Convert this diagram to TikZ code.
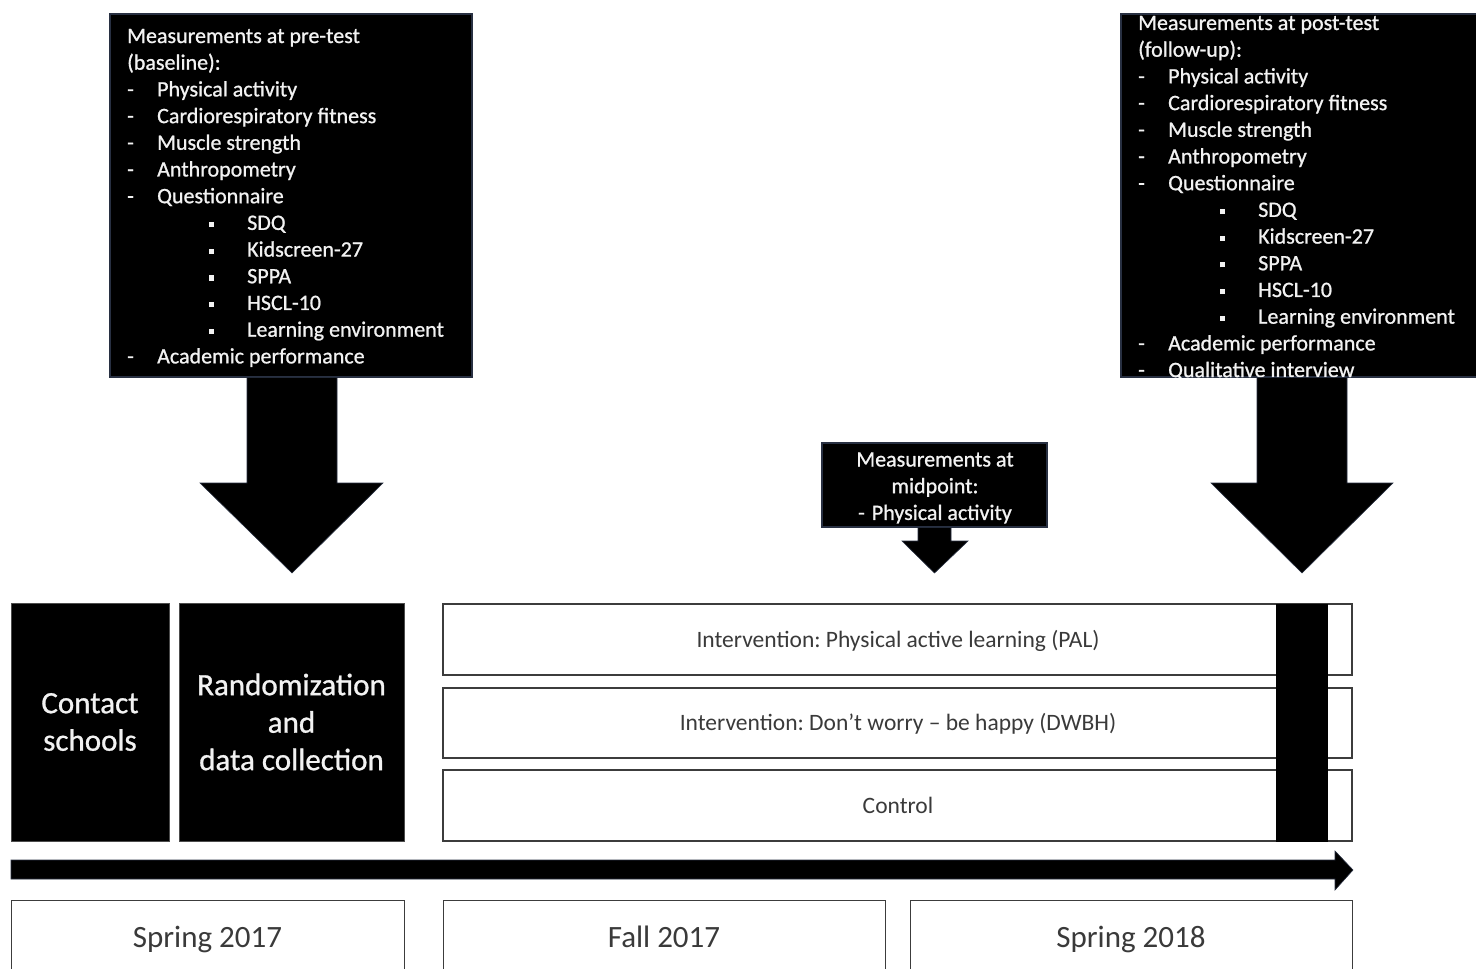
\documentclass[tikz,border=0pt]{standalone}
\usepackage{fontspec}
\setmainfont{Carlito}
\newfontfamily\heavyfont{Carlito}[FakeBold=0.9]
\frenchspacing
\definecolor{boxedge}{RGB}{40,48,66}
\definecolor{lineedge}{RGB}{60,60,60}
\definecolor{darktext}{RGB}{58,58,58}
\definecolor{lighttext}{RGB}{242,242,242}
\newcommand\lstdash[1]{\makebox[30pt][l]{-}#1\par}
\newcommand\lstbul[1]{\hspace*{82pt}\makebox[38pt][l]{\raisebox{2.8pt}{\rule{5pt}{5pt}}}#1\par}
\newcommand\lsthead[1]{#1\par}
\tikzset{
  blackbox/.style={draw=boxedge, fill=black, line width=1.2pt, inner sep=0pt},
  darkbox/.style={draw=black!70, fill=black, line width=1pt, inner sep=0pt},
  whitebox/.style={draw=lineedge, fill=white, line width=1.3pt, inner sep=0pt},
  listtext/.style={text=lighttext, inner sep=0pt, anchor=base west, font=\heavyfont\fontsize{22}{26.7}\selectfont},
  bigwhite/.style={text=lighttext, align=center, font=\heavyfont\fontsize{31}{37.5}\selectfont},
  bigdark/.style={text=darktext, anchor=base, inner sep=0pt, font=\fontsize{31}{37.5}\selectfont},
  interv/.style={text=darktext, anchor=base, inner sep=0pt, font=\fontsize{23.5}{28}\selectfont},
  blockarrow/.style={fill=black, draw=boxedge, line width=0.6pt}
}
\begin{document}
\begin{tikzpicture}[x=1pt,y=-1pt]
\useasboundingbox (0,0) rectangle (1476,969);
\clip (0,0) rectangle (1476,969);

% ---------- pre-test box ----------
\node[blackbox, minimum width=362pt, minimum height=363pt] (pre) at (291,195.5) {};
\node[listtext] (pretxt) at (127,43) {\parbox[t]{340pt}{\raggedright
\lsthead{Measurements at pre-test}
\lsthead{(baseline):}
\lstdash{Physical activity}
\lstdash{Cardiorespiratory fitness}
\lstdash{Muscle strength}
\lstdash{Anthropometry}
\lstdash{Questionnaire}
\lstbul{SDQ}
\lstbul{Kidscreen-27}
\lstbul{SPPA}
\lstbul{HSCL-10}
\lstbul{Learning environment}
\lstdash{Academic performance}}};

% ---------- post-test box ----------
\node[blackbox, minimum width=370pt, minimum height=363pt] (post) at (1306,195.5) {};
\begin{scope}
\clip (1121,14) rectangle (1476,377);
\node[listtext] (posttxt) at (1138,30) {\parbox[t]{340pt}{\raggedright
\lsthead{Measurements at post-test}
\lsthead{(follow-up):}
\lstdash{Physical activity}
\lstdash{Cardiorespiratory fitness}
\lstdash{Muscle strength}
\lstdash{Anthropometry}
\lstdash{Questionnaire}
\lstbul{SDQ}
\lstbul{Kidscreen-27}
\lstbul{SPPA}
\lstbul{HSCL-10}
\lstbul{Learning environment}
\lstdash{Academic performance}
\lstdash{Qualitative interview}}};
\end{scope}

% ---------- midpoint box ----------
\node[blackbox, minimum width=225pt, minimum height=84pt] (mid) at (934.5,485) {};
\node[listtext, anchor=base] (midtxt) at (935,466.5) {\parbox[t]{220pt}{\centering
Measurements at\par midpoint:\par -\hspace{7pt}Physical activity\par}};

% ---------- block arrows ----------
\fill[blockarrow] (pre.south -| 247,0) -- (247,483) -- (200,483) -- (292,573) -- (383,483) -- (337,483) -- (pre.south -| 337,0) -- cycle;
\fill[blockarrow] (post.south -| 1257,0) -- (1257,483) -- (1211,483) -- (1302,573) -- (1393,483) -- (1347,483) -- (post.south -| 1347,0) -- cycle;
\fill[blockarrow] (mid.south -| 918,0) -- (918,541) -- (902,541) -- (934.5,573) -- (968,541) -- (951,541) -- (mid.south -| 951,0) -- cycle;

% ---------- phase boxes ----------
\node[darkbox, minimum width=158pt, minimum height=238pt] (contact) at (90,722) {};
\node[bigwhite] (contacttxt) at (contact.center) {Contact\\schools};
\node[darkbox, minimum width=225pt, minimum height=238pt] (random) at (291.5,722) {};
\node[bigwhite] (randomtxt) at (random.center) {Randomization\\and\\data collection};

% ---------- intervention arms ----------
\node[whitebox, minimum width=909pt, minimum height=71pt] (pal) at (897.5,639.5) {};
\node[interv] (paltxt) at (898,647) {Intervention: Physical active learning (PAL)};
\node[whitebox, minimum width=909pt, minimum height=70pt] (dwbh) at (897.5,723) {};
\node[interv] (dwbhtxt) at (898,730) {Intervention: Don’t worry – be happy (DWBH)};
\node[whitebox, minimum width=909pt, minimum height=71pt] (ctrl) at (897.5,805.5) {};
\node[interv] (ctrltxt) at (898,813) {Control};
\fill[black] (1276,604) rectangle (1328,842);

% ---------- timeline ----------
\fill[blockarrow] (11,860) -- (1335,860) -- (1335,851) -- (1353,870) -- (1335,890) -- (1335,879) -- (11,879) -- cycle;

% ---------- periods ----------
\node[whitebox, minimum width=393pt, minimum height=90pt, anchor=north west] (spr17) at (11,900) {};
\node[bigdark] (spr17txt) at (207.5,947) {Spring 2017};
\node[whitebox, minimum width=442pt, minimum height=90pt, anchor=north west] (fall17) at (443,900) {};
\node[bigdark] (fall17txt) at (664,947) {Fall 2017};
\node[whitebox, minimum width=442pt, minimum height=90pt, anchor=north west] (spr18) at (910,900) {};
\node[bigdark] (spr18txt) at (1131,947) {Spring 2018};
\end{tikzpicture}
\end{document}
